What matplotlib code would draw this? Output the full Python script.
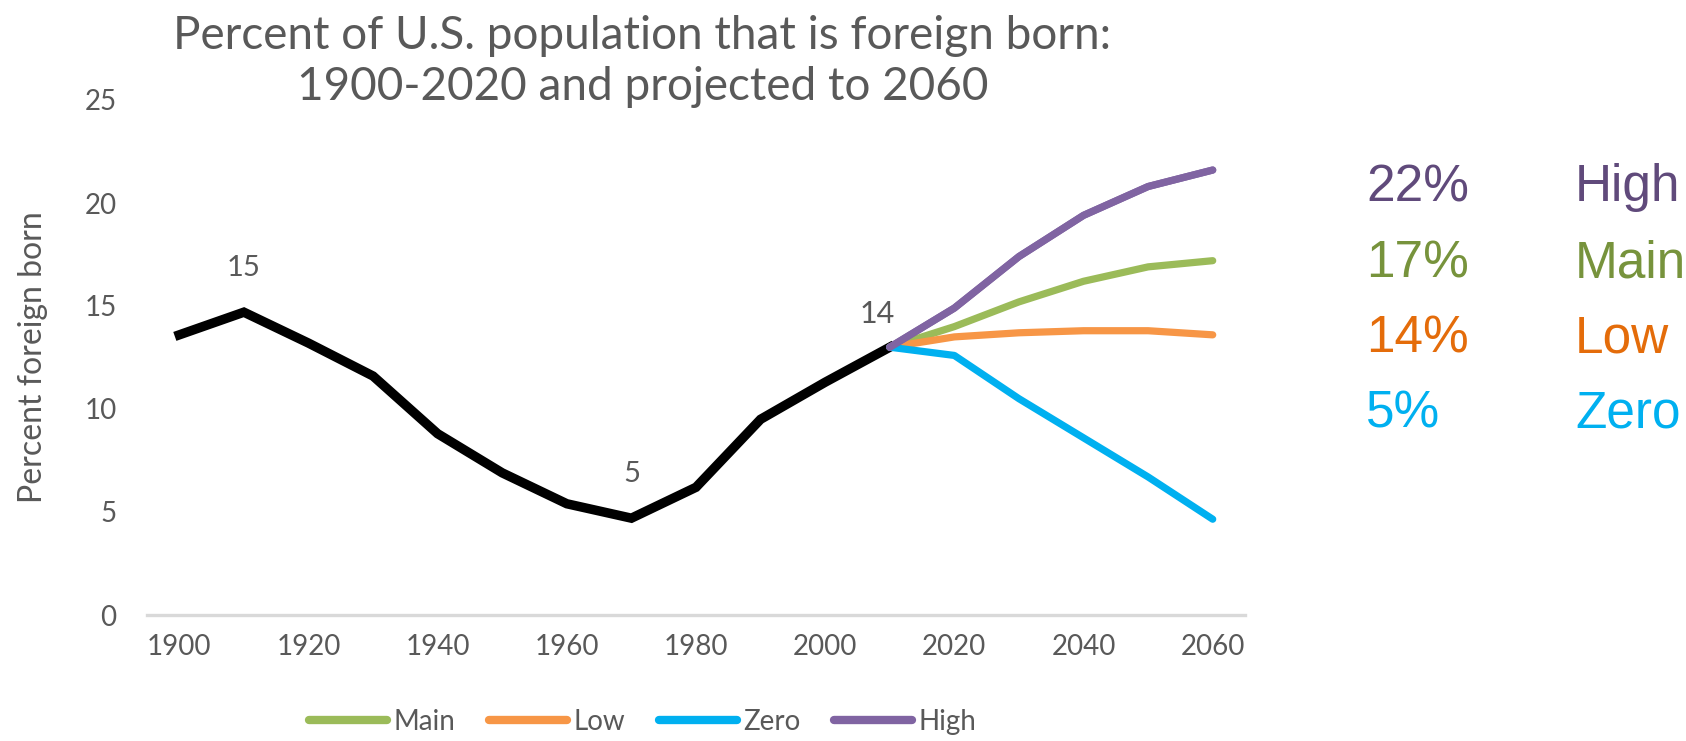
import matplotlib.pyplot as plt
from matplotlib.lines import Line2D

# historical percent foreign born
years_hist = [1900, 1910, 1920, 1930, 1940, 1950, 1960, 1970, 1980, 1990, 2000, 2010]
pct_hist = [13.6, 14.7, 13.2, 11.6, 8.8, 6.9, 5.4, 4.7, 6.2, 9.5, 11.3, 13.0]

# projections, start at 2010
years_proj = [2010, 2020, 2030, 2040, 2050, 2060]
main = [13.0, 14.0, 15.2, 16.2, 16.9, 17.2]
low = [13.0, 13.5, 13.7, 13.8, 13.8, 13.6]
zero = [13.0, 12.6, 10.5, 8.6, 6.7, 4.65]
high = [13.0, 14.9, 17.4, 19.4, 20.8, 21.6]

scen_names = ['Main', 'Low', 'Zero', 'High']
scen_vals = [main, low, zero, high]
line_cols = ['#9BBB59', '#F79646', '#00B0F0', '#8064A2']
text_cols = ['#77933C', '#E46C0A', '#00B0F0', '#604A7B']
end_labels = ['17%', '14%', '5%', '22%']

W, H = 1686, 741
gray = '#595959'
font = 'Lato'

fig = plt.figure(figsize=(W / 100, H / 100), dpi=100)
ax = fig.add_axes([147 / W, 1 - 615 / H, (1245 - 147) / W, (615 - 100) / H])

ax.plot(years_hist, pct_hist, color='black', lw=6.8, solid_joinstyle='miter', zorder=3)
for name, vals, c in zip(scen_names, scen_vals, line_cols):
    ax.plot(years_proj, vals, color=c, lw=5.2, solid_capstyle='round', zorder=4, label=name)
# high on top like the original
ax.plot(years_proj, high, color=line_cols[3], lw=5.2, solid_capstyle='round', zorder=5)

ax.set_xlim(1895, 2065)
ax.set_ylim(0, 25)
ax.set_xticks(range(1900, 2061, 20))
ax.set_yticks(range(0, 26, 5))
for s in ['top', 'right', 'left']:
    ax.spines[s].set_visible(False)
ax.spines['bottom'].set_color('#D9D9D9')
ax.spines['bottom'].set_linewidth(2.4)
ax.tick_params(length=0, labelcolor=gray, labelsize=20, pad=14)
for t in ax.get_xticklabels() + ax.get_yticklabels():
    t.set_fontfamily(font)
ax.tick_params(axis='y', pad=22)

ax.set_ylabel('Percent foreign born', fontsize=23, color=gray, family=font, labelpad=26)

# data labels
ax.annotate('15', (1910, 14.7), xytext=(0, 32), textcoords='offset points',
            ha='center', va='center', fontsize=21, color=gray, family=font)
ax.annotate('5', (1970, 4.7), xytext=(0, 32), textcoords='offset points',
            ha='center', va='center', fontsize=21, color=gray, family=font)
ax.annotate('14', (2010, 13.0), xytext=(-9, 24), textcoords='offset points',
            ha='center', va='center', fontsize=22, color=gray, family=font)

# title
fig.text(642 / W, 1 - 49 / H, 'Percent of U.S. population that is foreign born:',
         ha='center', va='baseline', fontsize=33, color=gray, family=font)
fig.text(643 / W, 1 - 100 / H, '1900-2020 and projected to 2060',
         ha='center', va='baseline', fontsize=33, color=gray, family=font)

# right side labels
order = [3, 0, 1, 2]
baselines = [201, 277, 352, 427]
for i, yb in zip(order, baselines):
    fig.text(1366 / W, 1 - yb / H, end_labels[i], ha='left', va='baseline',
             fontsize=37, color=text_cols[i], family='Liberation Sans')
    fig.text(1575 / W, 1 - yb / H, scen_names[i], ha='left', va='baseline',
             fontsize=37, color=text_cols[i], family='Liberation Sans')

handles = [Line2D([0], [0], color=c, lw=6, solid_capstyle='round') for c in line_cols]
leg = fig.legend(handles, scen_names, loc='center', bbox_to_anchor=(643 / W, 1 - 722 / H),
                 ncol=4, frameon=False, handlelength=2.8, handletextpad=0.25,
                 columnspacing=1.2, prop={'family': font, 'size': 20})
for t in leg.get_texts():
    t.set_color(gray)

fig.savefig('out.png', dpi=100)
